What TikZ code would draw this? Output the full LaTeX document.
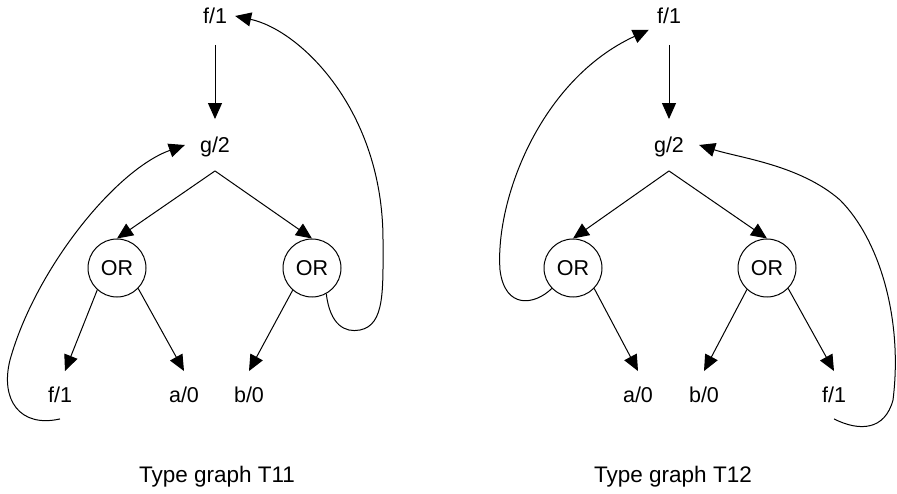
\documentclass[tikz,border=0pt]{standalone}
\usepackage{fontspec}
\setmainfont{Liberation Sans}
\usetikzlibrary{arrows.meta}
\tikzset{
  lbl/.style={font=\fontsize{21.5}{24}\selectfont, text height=15.5pt, text depth=0pt, inner sep=0pt},
  topf/.style={lbl, inner xsep=8pt, inner ysep=21pt},
  gnode/.style={lbl, inner xsep=15pt, inner ysep=18pt},
  leaf/.style={lbl, inner xsep=4pt, inner ysep=16pt},
  ornode/.style={draw, circle, line width=1pt, minimum size=58pt, inner sep=0pt,
    font=\fontsize{21.5}{24}\selectfont, text height=15.5pt, text depth=0pt},
  captionnode/.style={font=\fontsize{22.5}{26}\selectfont, inner sep=0pt},
  edge/.style={line width=1pt, -{Triangle[length=16pt,width=14pt]}},
}
\begin{document}
\begin{tikzpicture}[x=1pt,y=-1pt]
\useasboundingbox (0,0) rectangle (897,494);
\fill[white] (0,0) rectangle (897,494);

% ---------- Type graph T11 ----------
\node[topf]   (f1t) at (215,16)  {f/1};
\node[gnode]  (g2)  at (215,145) {g/2};
\node[ornode] (orL) at (117,268) {OR};
\node[ornode] (orR) at (312,268) {OR};
\node[leaf]   (f1b) at (60,395)  {f/1};
\node[leaf]   (a0)  at (184,395) {a/0};
\node[leaf]   (b0)  at (249,395) {b/0};
\node[captionnode] (cap1) at (217,477) {Type graph T11};

\draw[edge] (f1t.south) -- (g2.north);
\draw[edge] (g2.south) -- (orL.north);
\draw[edge] (g2.south) -- (orR.north);
\draw[edge] (orL.228) -- ([xshift=5pt]f1b.north);
\draw[edge] (orL.316) -- (a0.north);
\draw[edge] (orR.229) -- (b0.north);
\draw[edge] (f1b.south) .. controls (20,428) and (0,400) .. (10,360)
  .. controls (35,270) and (115,170) .. (g2.west);
\draw[edge] (orR.299) .. controls (330,325) and (345,333) .. (360,330)
  .. controls (385,325) and (383,290) .. (383,240)
  .. controls (383,110) and (300,30) .. (f1t.east);

% ---------- Type graph T12 ----------
\node[topf]   (f1tR) at (669,16)  {f/1};
\node[gnode]  (g2R)  at (669,145) {g/2};
\node[ornode] (orL2) at (573,268) {OR};
\node[ornode] (orR2) at (767,268) {OR};
\node[leaf]   (a0R)  at (638,395) {a/0};
\node[leaf]   (b0R)  at (704,395) {b/0};
\node[leaf]   (f1bR) at (834,395) {f/1};
\node[captionnode] (cap2) at (673,477) {Type graph T12};

\draw[edge] (f1tR.south) -- (g2R.north);
\draw[edge] (g2R.south) -- (orL2.north);
\draw[edge] (g2R.south) -- (orR2.north);
\draw[edge] (orL2.316) -- (a0R.north);
\draw[edge] (orR2.227) -- (b0R.north);
\draw[edge] (orR2.316) -- (f1bR.north);
\draw[edge] (orL2.224) .. controls (535,305) and (505,310) .. (500,270)
  .. controls (495,200) and (540,80) .. ([yshift=-6pt]f1tR.base west);
\draw[edge] (f1bR.south) .. controls (860,432) and (885,430) .. (893,400)
  .. controls (903,320) and (880,240) .. (840,200)
  .. controls (800,165) and (740,158) .. (g2R.east);
\end{tikzpicture}
\end{document}
